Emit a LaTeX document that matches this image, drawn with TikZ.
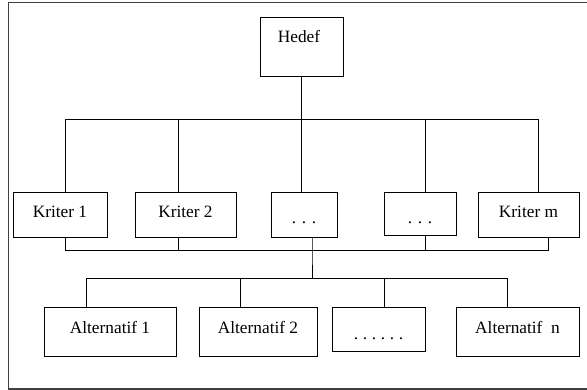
\documentclass[tikz,border=0pt]{standalone}
\usepackage{fontspec}
\setmainfont{Liberation Serif}
\begin{document}
\begin{tikzpicture}[x=1pt,y=-1pt,line width=1pt,
  box/.style={draw=black,line width=1pt,inner sep=0pt,minimum height=#1},
  box/.default=45pt,
  lbl/.style={anchor=base,inner sep=0pt,font=\fontsize{17.3}{20}\selectfont},
  conn/.style={draw=black,line width=1pt}]
\useasboundingbox (0,0) rectangle (587,390);
% outer frame (right side beyond the picture)
\draw[black!75,line width=1pt] (587,3) -- (8,3) -- (8,389) -- (587,389);
% boxes
\node[box=59pt,minimum width=83pt]  (h)  at (301.5,47.5) {};
\node[box,minimum width=94pt]  (k1) at (60,215.5) {};
\node[box,minimum width=101pt] (k2) at (185.5,215.5) {};
\node[box,minimum width=66pt]  (k3) at (304,215.5) {};
\node[box=43pt,minimum width=72pt]  (k4) at (420,214.5) {};
\node[box,minimum width=101pt] (km) at (528.5,215.5) {};
\node[box=49pt,minimum width=132pt] (a1) at (110,332.5) {};
\node[box=49pt,minimum width=118pt] (a2) at (258,332.5) {};
\node[box=44pt,minimum width=93pt]  (a3) at (378.5,330) {};
\node[box=49pt,minimum width=123pt] (an) at (517.5,332.5) {};
% labels
\node[lbl] (th)  at (299,43)  {Hedef};
\node[lbl] (tk1) at (60,218)  {Kriter 1};
\node[lbl] (tk2) at (185.5,218) {Kriter 2};
\node[lbl] (tk3) at (304,224) {.\hspace{5.6pt}.\hspace{5.6pt}.};
\node[lbl] (tk4) at (420,224) {.\hspace{5.6pt}.\hspace{5.6pt}.};
\node[lbl] (tkm) at (528.5,218) {Kriter m};
\node[lbl] (ta1) at (110,334) {Alternatif 1};
\node[lbl] (ta2) at (258,334) {Alternatif 2};
\node[lbl] (ta3) at (378.5,340) {.\hspace{4.7pt}.\hspace{4.7pt}.\hspace{4.7pt}.\hspace{4.7pt}.\hspace{4.7pt}.};
\node[lbl] (tan) at (517.5,334) {Alternatif\ \ n};
% bus coordinates
\coordinate (t0) at (301,120);
\coordinate (t1) at (65,120);
\coordinate (t2) at (178,120);
\coordinate (t4) at (425,120);
\coordinate (t5) at (538,120);
\coordinate (m1) at (65,251);
\coordinate (m2) at (178,251);
\coordinate (m3) at (312,251);
\coordinate (m4) at (425,251);
\coordinate (m5) at (548,251);
\coordinate (n0) at (312,279);
\coordinate (n1) at (86,279);
\coordinate (n2) at (240,279);
\coordinate (n3) at (384,279);
\coordinate (n4) at (507,279);
% top tree
\draw[conn] (h.south -| t0) -- (t0);
\draw[conn] (k1.north -| t1) -- (t1) -- (t5) -- (km.north -| t5);
\draw[conn] (t2) -- (k2.north -| t2);
\draw[conn] (t0) -- (k3.north -| t0);
\draw[conn] (t4) -- (k4.north -| t4);
% middle bus
\draw[conn] (k1.south -| m1) -- (m1) -- (m5) -- (km.south -| m5);
\draw[conn] (k2.south -| m2) -- (m2);
\draw[conn] (k3.south -| m3) -- (m3) -- (n0);
\draw[conn] (k4.south -| m4) -- (m4);
% bottom tree
\draw[conn] (a1.north -| n1) -- (n1) -- (n4) -- (an.north -| n4);
\draw[conn] (n2) -- (a2.north -| n2);
\draw[conn] (n3) -- (a3.north -| n3);
\end{tikzpicture}
\end{document}
